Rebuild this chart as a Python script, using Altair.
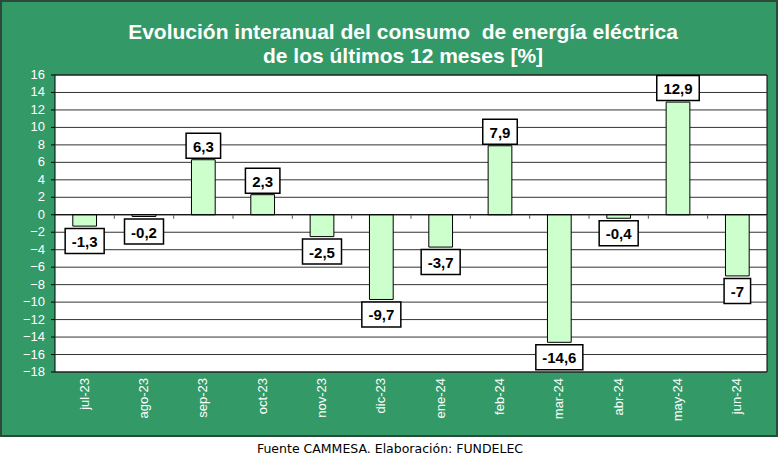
import altair as alt
import pandas as pd

months = ["jul-23", "ago-23", "sep-23", "oct-23", "nov-23", "dic-23",
          "ene-24", "feb-24", "mar-24", "abr-24", "may-24", "jun-24"]
values = [-1.3, -0.2, 6.3, 2.3, -2.5, -9.7, -3.7, 7.9, -14.6, -0.4, 12.9, -7]
y_ticks = list(range(-18, 17, 2))
title_lines = ["Evolución interanual del consumo \u00a0de energía eléctrica",
               "de los últimos 12 meses [%]"]
footer = "Fuente CAMMESA. Elaboración: FUNDELEC"

W, H = 712, 297
GREEN = "#339966"

df = pd.DataFrame({"mes": months, "valor": values})
grid_df = pd.DataFrame({"valor": y_ticks})

xscale = alt.Scale(paddingInner=0.6, paddingOuter=0.3)
xenc = alt.X("mes:N", sort=months, scale=xscale, axis=None)
yscale = alt.Scale(domain=[-18, 16], nice=False, zero=False)
yenc = alt.Y("valor:Q", scale=yscale, axis=None)

base = alt.Chart(df)
one = "datum.mes == 'jul-23'"

green_bg = base.mark_rect(fill=GREEN, stroke="#2a4a3a", strokeWidth=2).encode(
    x=alt.value(-54), x2=alt.value(722), y=alt.value(-74), y2=alt.value(361)
).transform_filter(one)

white_plot = base.mark_rect(fill="white", stroke="black", strokeWidth=1).encode(
    x=alt.value(0), x2=alt.value(W), y=alt.value(0), y2=alt.value(H)
).transform_filter(one)

grid = alt.Chart(grid_df).mark_rule(color="#333333", strokeWidth=1).encode(
    y=yenc
)

ytick_marks = alt.Chart(grid_df).mark_rule(color="black", strokeWidth=1).encode(
    y=yenc, x=alt.value(-4), x2=alt.value(0)
)

ytick_labels = alt.Chart(grid_df).mark_text(
    font="Liberation Sans", fontSize=13, color="white", align="right",
    baseline="middle"
).encode(
    y=yenc, x=alt.value(-10), text=alt.Text("valor:Q", format="d")
)

xlabels = base.mark_text(
    font="Liberation Sans", fontSize=13, color="white", align="right",
    baseline="middle", angle=270
).encode(
    x=xenc, y=alt.value(H + 6), text="mes:N"
)

bars = base.mark_bar(fill="#CCFFCC", stroke="black", strokeWidth=1,
                     opacity=1, fillOpacity=1).encode(
    x=xenc, y=yenc, y2=alt.datum(0)
)

zero = base.mark_rule(color="black", strokeWidth=1).encode(
    y=alt.Y(datum=0, scale=yscale, axis=None)
).transform_filter(one)

cat_ticks = base.mark_rule(color="#555555", strokeWidth=1,
                           xOffset=W / 12 / 2, y2Offset=4).encode(
    x=xenc, y=alt.Y(datum=0, scale=yscale, axis=None), y2=alt.datum(0)
)

lab = base.transform_calculate(
    label="replace(toString(datum.valor), '.', ',')"
).transform_calculate(
    nd="length(replace(datum.label, regexp('[^0-9]', 'g'), ''))"
).transform_calculate(
    hw="(8 * datum.nd + 4.5 * (length(datum.label) - datum.nd) + 14) / 100",
    hh="0.25"
).transform_calculate(
    path="'M' + (-datum.hw) + ',' + (-datum.hh) + 'H' + datum.hw + 'V' + datum.hh + 'H' + (-datum.hw) + 'Z'"
)

def label_layers(cond, off):
    sub = lab.transform_filter(cond)
    box = sub.mark_point(filled=True, fill="white", stroke="black",
                         strokeWidth=1.5, opacity=1, size=10000,
                         yOffset=off).encode(
        x=xenc, y=yenc,
        shape=alt.Shape("path:N", scale=None, legend=None)
    )
    txt = sub.mark_text(font="Liberation Sans", fontSize=15, fontWeight="bold",
                        color="black", baseline="middle", yOffset=off + 1).encode(
        x=xenc, y=yenc, text="label:N"
    )
    return box + txt

pos_labels = label_layers("datum.valor >= 0", -14)
neg_labels = label_layers("datum.valor < 0", 15)

def title_line(txt, ybase):
    return base.mark_text(font="Liberation Sans", fontSize=21, fontWeight="bold",
                          color="white", align="center",
                          baseline="alphabetic").encode(
        x=alt.value(403 - 55), y=alt.value(ybase - 75), text=alt.datum(txt)
    ).transform_filter(one)

title1 = title_line(title_lines[0], 39)
title2 = title_line(title_lines[1], 63)

foot = base.mark_text(font="DejaVu Sans", fontSize=12.5, color="black",
                      align="center", baseline="middle").encode(
    x=alt.value(390 - 55), y=alt.value(449 - 75), text=alt.datum(footer)
).transform_filter(one)

chart = alt.layer(
    green_bg, white_plot, grid, ytick_marks, ytick_labels, xlabels,
    bars, zero, cat_ticks, pos_labels, neg_labels, title1, title2, foot
).properties(
    width=W, height=H,
    autosize=alt.AutoSizeParams(type="none"),
    padding={"left": 55, "top": 75, "right": 13, "bottom": 87},
    background="white"
).configure_view(stroke=None)

chart.save("out.html", embed_options={"renderer": "svg", "actions": False})
